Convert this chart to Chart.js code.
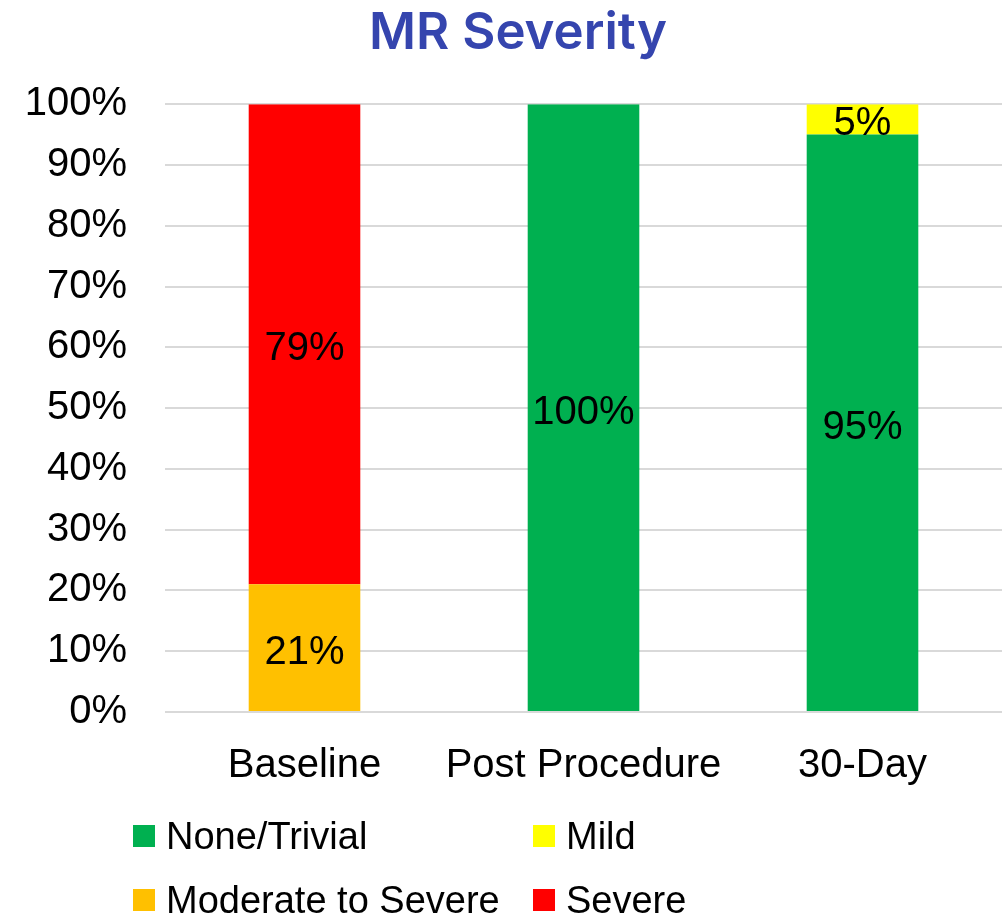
<!DOCTYPE html>
<html>
<head>
<meta charset="utf-8">
<script src="https://cdn.jsdelivr.net/npm/chart.js@4"></script>
<style>
  body { margin: 0; background: #fff; }
  #wrap { position: relative; width: 1005px; height: 919px; }
  #chart { position: absolute; left: 0; top: 0; }
  #legend { position: absolute; left: 0; top: 0; width: 1005px; height: 919px; pointer-events: none;
            font-family: "Liberation Sans", Arial, sans-serif; font-size: 38px; color: #000; }
  .item { position: absolute; height: 44px; line-height: 44px; white-space: nowrap; }
  .box { position: absolute; left: 0; top: 11px; width: 22px; height: 22px; }
  .txt { position: absolute; left: 33px; top: 0; }
</style>
</head>
<body>
<div id="wrap">
  <canvas id="chart" width="1005" height="820"></canvas>
  <div id="legend"></div>
</div>
<script>
var categories = ['Baseline', 'Post Procedure', '30-Day'];
var noneTrivial = [0, 100, 95];
var mild = [0, 0, 5];
var moderateSevere = [21, 0, 0];
var severe = [79, 0, 0];
var yTicks = [0, 10, 20, 30, 40, 50, 60, 70, 80, 90, 100];

var seriesNames = ['None/Trivial', 'Mild', 'Moderate to Severe', 'Severe'];
var seriesColors = ['#00B050', '#FFFF00', '#FFC000', '#FF0000'];
var seriesData = [noneTrivial, mild, moderateSevere, severe];

var FONT = '"Liberation Sans", Arial, sans-serif';

// value labels in the middle of every segment
var segmentLabels = {
	id: 'segmentLabels',
	afterDatasetsDraw: function(chart) {
		var ctx = chart.ctx;
		ctx.save();
		ctx.font = '40px ' + FONT;
		ctx.fillStyle = '#000';
		ctx.textAlign = 'center';
		ctx.textBaseline = 'middle';
		chart.data.datasets.forEach(function(ds, i) {
			var meta = chart.getDatasetMeta(i);
			meta.data.forEach(function(bar, j) {
				var v = ds.data[j];
				if (!v) return;
				var mid = (bar.y + bar.base) / 2;
				ctx.fillText(v + '%', bar.x, mid + 5);
			});
		});
		ctx.restore();
	}
};

// title sits a little right of the canvas centre
var shiftTitle = {
	id: 'shiftTitle',
	afterLayout: function(chart) {
		if (chart.titleBlock) chart.titleBlock.left += 34;
	}
};

var datasets = seriesNames.map(function(name, i) {
	return {
		label: name,
		data: seriesData[i],
		backgroundColor: seriesColors[i],
		borderWidth: 0,
		barPercentage: 0.4,
		categoryPercentage: 1.0
	};
});

var ctx = document.getElementById('chart').getContext('2d');
window.myBar = new Chart(ctx, {
	type: 'bar',
	data: { labels: categories, datasets: datasets },
	plugins: [segmentLabels, shiftTitle],
	options: {
		responsive: false,
		animation: false,
		layout: { padding: { left: 0, right: 3, top: 0, bottom: 0 } },
		plugins: {
			legend: { display: false },
			tooltip: { enabled: false },
			title: {
				display: true,
				text: 'MR Severity',
				color: '#3545AE',
				font: { family: 'Inter, "Open Sans", sans-serif', size: 51, weight: '600' },
				padding: { top: 3, bottom: 40 }
			}
		},
		scales: {
			x: {
				stacked: true,
				grid: { display: false, drawTicks: false },
				border: { display: false },
				ticks: {
					color: '#000',
					font: { family: FONT, size: 40 },
					padding: 30,
					maxRotation: 0,
					minRotation: 0,
					autoSkip: false
				}
			},
			y: {
				stacked: true,
				min: 0,
				max: 100,
				afterBuildTicks: function(axis) {
					axis.ticks = yTicks.map(function(v) { return { value: v }; });
				},
				afterFit: function(axis) {
					axis.width = 165;
				},
				grid: { color: '#D9D9D9', lineWidth: 2, drawTicks: false },
				border: { display: false },
				ticks: {
					color: '#000',
					font: { family: FONT, size: 40 },
					padding: 38,
					callback: function(v) { return v + '%'; }
				}
			}
		}
	}
});

// two-column legend under the chart
var legendPos = [[133, 814], [533, 814], [133, 878], [533, 878]];
var legendDiv = document.getElementById('legend');
seriesNames.forEach(function(name, k) {
	var item = document.createElement('div');
	item.className = 'item';
	item.style.left = legendPos[k][0] + 'px';
	item.style.top = legendPos[k][1] + 'px';
	item.innerHTML = '<div class="box" style="background:' + seriesColors[k] + '"></div>' +
		'<div class="txt">' + name + '</div>';
	legendDiv.appendChild(item);
});
</script>
</body>
</html>
